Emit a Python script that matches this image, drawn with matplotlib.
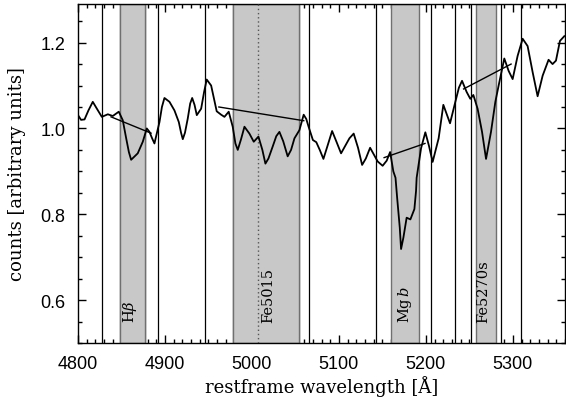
import matplotlib
matplotlib.use("Agg")
import matplotlib.pyplot as plt
from matplotlib.ticker import MultipleLocator

# Spectrum (restframe wavelength [A], counts)
wave = [4800, 4803.5, 4807.5, 4812, 4817, 4822, 4827.4, 4834.3, 4840, 4846.9, 4851.5, 4855.4, 4858.5, 4861.1,
        4868.7, 4874.5, 4879.1, 4882.2, 4885, 4887.9, 4893.7, 4896.5, 4899.4, 4905.2, 4910.9, 4915.9,
        4918.5, 4920.5, 4923, 4926.2, 4929, 4931.3, 4934, 4936.6, 4941.6, 4945, 4948.0, 4953.1, 4959.5, 4964.6, 4968.4,
        4973.3, 4977.9, 4981, 4983.7, 4987.5, 4991.4, 4997.1, 5002.1, 5007.5, 5012, 5015.5, 5019, 5023.9, 5028, 5031.6,
        5036, 5041.1, 5045, 5048.9, 5054.6, 5059.5, 5062.5, 5065.0, 5070.1, 5074.0, 5078, 5082.2, 5087, 5092.2, 5097, 5102.5,
        5112.1, 5117.0, 5122, 5126.7, 5131, 5135.9, 5144.6, 5150.3, 5155, 5158.9, 5162.6, 5165.1, 5167.0,
        5170.0, 5171.5, 5174.2, 5177.9, 5182.2, 5186.8, 5188.7, 5189.4, 5194.5, 5199.4,
        5203.5, 5207.8, 5214.7, 5220.1, 5227.8, 5233.9, 5238, 5241.6, 5246.9, 5251.1, 5254.6, 5259.5,
        5264.6, 5269.2, 5274.9, 5279.9, 5284.5, 5290.2, 5295.2, 5299.8, 5305.5, 5311.3,
        5317.0, 5322.8, 5328.5, 5334.3, 5341.1, 5345.7, 5349.6, 5354.2, 5359.2]
flux = [1.031, 1.020, 1.021, 1.042, 1.062, 1.045, 1.027, 1.033, 1.029, 1.039, 1.019, 0.977, 0.945, 0.927,
        0.942, 0.969, 1.000, 0.992, 0.978, 0.965, 1.015, 1.050, 1.071, 1.062, 1.042, 1.015,
        0.990, 0.975, 0.990, 1.023, 1.058, 1.071, 1.055, 1.031, 1.046, 1.085, 1.114, 1.100, 1.040, 1.032, 1.027,
        1.039, 1.004, 0.965, 0.950, 0.975, 1.004, 0.988, 0.969, 0.981, 0.950, 0.918, 0.930, 0.958, 0.982, 0.992,
        0.970, 0.935, 0.950, 0.977, 0.996, 1.032, 1.022, 1.005, 0.973, 0.968, 0.950, 0.929, 0.960, 0.994, 0.970, 0.942,
        0.977, 0.988, 0.955, 0.915, 0.930, 0.955, 0.923, 0.913, 0.925, 0.945, 0.900, 0.885, 0.838,
        0.769, 0.719, 0.746, 0.792, 0.788, 0.812, 0.854, 0.885, 0.954, 0.991,
        0.960, 0.922, 0.977, 1.055, 1.012, 1.062, 1.095, 1.111, 1.085, 1.069, 1.078, 1.046,
        0.992, 0.929, 0.992, 1.062, 1.108, 1.163, 1.134, 1.115, 1.169, 1.209,
        1.192, 1.131, 1.075, 1.123, 1.160, 1.150, 1.158, 1.204, 1.215]

# Index definitions
index_names = [r"H$\beta$", "Fe5015", r"Mg$\,b$", "Fe5270s"]
band_lo = [4847.875, 4977.75, 5160.125, 5257.5]
band_hi = [4876.625, 5054.00, 5192.625, 5280.5]
label_wave = [4860, 5019, 5176.5, 5266]
continuum_edges = [4827.875, 4847.875, 4876.625, 4891.625,
                   4946.50, 4977.75, 5054.00, 5065.25,
                   5142.625, 5161.375, 5191.375, 5206.375,
                   5233.5, 5251.5, 5286.5, 5309.5]
# pseudo-continuum lines: (blue wave, blue flux) -> (red wave, red flux)
cont_w0 = [4838, 4962, 5152, 5243.4]
cont_f0 = [1.027, 1.050, 0.932, 1.092]
cont_w1 = [4884, 5059.6, 5199, 5298]
cont_f1 = [0.989, 1.018, 0.965, 1.150]
oiii_wave = 5007

serif = ["DejaVu Serif"]
plt.rcParams['mathtext.fontset'] = 'dejavuserif'

fig = plt.figure(figsize=(5.66, 4.02), dpi=100)
ax = fig.add_axes([78 / 566, 58 / 402, 487 / 566, 339 / 402])

for lo, hi in zip(band_lo, band_hi):
    ax.axvspan(lo, hi, facecolor="#c8c8c8", edgecolor="#707070", lw=1.0, zorder=2)
for e in continuum_edges:
    ax.axvline(e, color="black", lw=0.9, zorder=1)
ax.axvline(oiii_wave, color="#555555", lw=1.0, ls=(0, (1, 2)), zorder=3)

for w0, f0, w1, f1 in zip(cont_w0, cont_f0, cont_w1, cont_f1):
    ax.plot([w0, w1], [f0, f1], color="black", lw=1.0, zorder=4)

ax.plot(wave, flux, color="black", lw=1.3, zorder=5, solid_joinstyle="round")

for name, lw_ in zip(index_names, label_wave):
    ax.text(lw_, 0.548, name, rotation=90, ha="center", va="bottom",
            family=serif, fontsize=10.5, zorder=6)

ax.set_xlim(4800, 5360)
ax.set_ylim(0.5, 1.29)
ax.xaxis.set_major_locator(MultipleLocator(100))
ax.xaxis.set_minor_locator(MultipleLocator(10))
ax.yaxis.set_major_locator(MultipleLocator(0.2))
ax.yaxis.set_minor_locator(MultipleLocator(0.05))
ax.tick_params(which="both", direction="in", top=True, right=True, width=1.0)
ax.tick_params(which="major", length=6, labelsize=13, pad=9)
ax.tick_params(which="minor", length=3)
for lab in ax.get_xticklabels() + ax.get_yticklabels():
    lab.set_family("Liberation Sans")
ax.yaxis.set_major_formatter(matplotlib.ticker.FormatStrFormatter("%.1f"))
for s in ax.spines.values():
    s.set_linewidth(1.0)

ax.set_xlabel("restframe wavelength [Å]", family=serif, fontsize=13, labelpad=2)
ax.set_ylabel("counts [arbitrary units]", family=serif, fontsize=13, labelpad=10)

fig.savefig("out.png", dpi=100)
